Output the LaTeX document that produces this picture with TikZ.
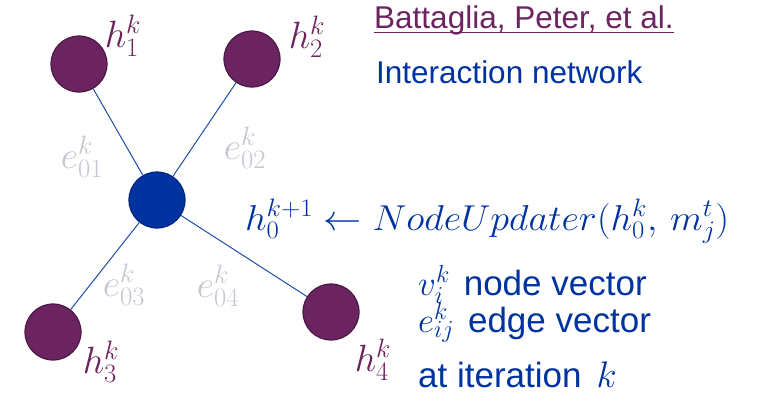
\RequirePackage{fix-cm}
\documentclass[tikz,border=0pt]{standalone}
\usepackage{fontspec}
\setmainfont{Liberation Sans}
\definecolor{nodepurple}{HTML}{6C2460}
\definecolor{nodepurpleedge}{HTML}{4A1846}
\definecolor{deepblue}{HTML}{0033A0}
\definecolor{deepblueedge}{HTML}{00257A}
\definecolor{edgeline}{HTML}{1F4EA8}
\definecolor{edgelabel}{HTML}{C6C6D2}
\tikzset{
  leaf/.style={circle, fill=nodepurple, draw=nodepurpleedge, line width=1.2pt, minimum size=56pt, inner sep=0pt},
  hub/.style={circle, fill=deepblue, draw=deepblueedge, line width=1.2pt, minimum size=56pt, inner sep=0pt},
  link/.style={draw=edgeline, line width=1pt},
  hlabel/.style={text=nodepurple, font=\fontsize{38}{42}\selectfont, inner sep=0pt},
  elabel/.style={text=edgelabel, font=\fontsize{38}{42}\selectfont, inner sep=0pt},
  bluetext/.style={text=deepblue, inner sep=0pt, anchor=base west},
  legendtext/.style={bluetext, font=\fontsize{35}{40}\selectfont},
}
% math inside the legend lines, at a given size
\newcommand{\legmath}[2]{{\fontsize{#1}{40}\selectfont$#2$}}
\begin{document}
\begin{tikzpicture}[x=1pt,y=-1pt]
\useasboundingbox (0,0) rectangle (766,400);

% graph nodes
\node[hub]  (c)  at (157,200) {};
\node[leaf] (n1) at (79,64) {};
\node[leaf] (n2) at (252,59) {};
\node[leaf] (n3) at (53,332) {};
\node[leaf] (n4) at (331,312) {};

% edges from the centre node
\path[link] (c) -- (n1);
\path[link] (c) -- (n2);
\path[link] (c) -- (n3);
\path[link] (c) -- (n4);

% node state labels
\node[hlabel] (l1) at (123,36) {$h_1^k$};
\node[hlabel] (l2) at (307,37) {$h_2^k$};
\node[hlabel] (l3) at (101,362) {$h_3^k$};
\node[hlabel] (l4) at (373,360) {$h_4^k$};

% edge state labels
\node[elabel] (e1) at (82,157) {$e_{01}^k$};
\node[elabel] (e2) at (245,148) {$e_{02}^k$};
\node[elabel] (e3) at (124,285) {$e_{03}^k$};
\node[elabel] (e4) at (218,286) {$e_{04}^k$};

% reference and model name
\node[bluetext, text=nodepurple, font=\fontsize{31.5}{36}\selectfont] (ref) at (374,28) {Battaglia, Peter, et al.};
\draw[nodepurple, line width=1.8pt] ([yshift=-4.5pt]ref.base west) -- ([yshift=-4.5pt]ref.base east);
\node[bluetext, font=\fontsize{31.5}{36}\selectfont] (model) at (376,83) {Interaction network};

% update rule
\node[bluetext, font=\fontsize{36}{40}\selectfont] (rule) at (245,230)
  {\scalebox{1.06}[1]{$h_0^{k+1} \leftarrow NodeUpdater(h_0^k,\, m_j^t)$}};

% legend
\node[legendtext] (v) at (418,295)
  {\legmath{35}{v^k_i}\hspace{14pt}node vector};
\node[legendtext] (e) at (418,332)
  {\legmath{35}{e^{\raisebox{-5pt}{$\scriptstyle k$}}_{ij}}\hspace{14pt}edge vector};
\node[legendtext] (it) at (418,387) {at iteration\hspace{15pt}\legmath{37}{k}};
\end{tikzpicture}
\end{document}
